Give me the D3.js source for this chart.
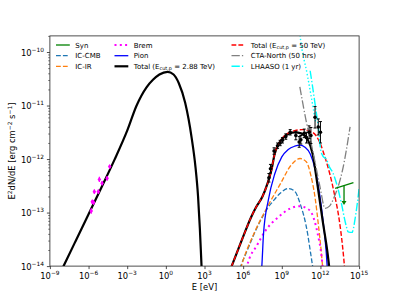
<!DOCTYPE html>
<html><head><meta charset="utf-8">
<script src="https://cdn.jsdelivr.net/npm/d3@7"></script>
<style>body{margin:0;background:#fff}svg{display:block}text{font-family:"DejaVu Sans",sans-serif;fill:#000}</style>
</head><body><svg id="c" width="399" height="299"></svg>
<script>
// ---- data: [log10 E (eV), log10 E^2dN/dE (erg cm^-2 s^-1)] ----
const totalLow = [[-8.3,-14.18],[-7.94,-14.0],[-7,-13.53],[-6,-13.03],[-5,-12.53],[-4,-12.02],[-3,-11.47],[-2.27,-11.0],[-1.5,-10.66],[-1.0,-10.52],[-0.5,-10.42],[0.13,-10.37],[0.6,-10.42],[1.0,-10.58],[1.5,-10.95],[2.0,-11.6],[2.3,-12.15],[2.5,-12.7],[2.64,-13.3],[2.77,-14.0],[2.85,-14.4]];
const totalHigh = [[4.9,-14.13],[5.11,-14.0],[6.0,-13.45],[6.59,-13.1],[7.0,-12.9],[7.5,-12.7],[7.9,-12.45],[8.2,-12.2],[8.45,-11.9],[8.8,-11.7],[9.2,-11.58],[9.6,-11.52],[10.0,-11.5],[10.5,-11.52],[11.0,-11.63],[11.39,-11.9],[11.78,-12.5],[12.17,-13.15],[12.56,-13.77],[12.72,-14.1]];
const total50 = [[4.9,-14.13],[5.11,-14.0],[6.0,-13.45],[6.59,-13.1],[7.0,-12.9],[7.5,-12.7],[7.9,-12.45],[8.2,-12.2],[8.45,-11.9],[8.8,-11.7],[9.2,-11.57],[9.6,-11.5],[10.0,-11.47],[10.6,-11.45],[11.2,-11.48],[11.65,-11.56],[12.0,-11.72],[12.42,-12.02],[12.75,-12.3],[13.07,-12.64],[13.46,-13.14],[13.72,-13.64],[13.9,-14.1]];
const icCMB = [[5.75,-14.05],[5.82,-14.0],[6.33,-13.7],[7.0,-13.32],[7.37,-13.14],[7.89,-12.92],[8.28,-12.8],[8.92,-12.63],[9.5,-12.55],[10.0,-12.6],[10.42,-12.83],[11.0,-13.39],[11.2,-13.7],[11.39,-14.0],[11.45,-14.1]];
const icIR = [[5.8,-14.05],[5.86,-14.0],[6.84,-13.39],[7.89,-12.89],[8.92,-12.45],[9.7,-12.12],[10.42,-11.99],[10.9,-12.05],[11.25,-12.3],[11.6,-12.75],[11.85,-13.25],[12.05,-13.7],[12.18,-14.05]];
const brem = [[6.25,-14.05],[6.3,-14.0],[7.1,-13.6],[7.7,-13.35],[8.9,-13.05],[9.6,-12.93],[10.35,-12.88],[11.0,-12.93],[11.3,-13.0],[11.78,-13.39],[12.09,-13.83],[12.2,-14.1]];
const pion = [[7.42,-14.1],[7.45,-14.0],[7.58,-13.4],[7.95,-12.77],[8.45,-12.28],[9.0,-11.96],[9.5,-11.82],[10.0,-11.76],[10.4,-11.74],[10.8,-11.78],[11.2,-11.9],[11.6,-12.2],[11.9,-12.6],[12.2,-13.15],[12.45,-13.75],[12.55,-14.1]];
const ctaNorth = [[10.4,-10.65],[10.9,-11.3],[11.39,-11.83],[11.95,-12.5],[12.36,-12.92],[12.7,-12.88],[13.07,-12.71],[13.72,-12.2],[14.3,-11.4]];
const lhaaso = [[11.2,-10.35],[11.6,-11.0],[11.9,-11.55],[12.0,-11.8],[12.2,-11.95],[12.45,-12.0],[12.7,-12.15],[12.95,-12.25],[13.3,-12.5],[13.6,-12.8],[14.0,-13.25],[14.15,-13.36],[14.45,-13.37],[14.7,-13.1],[15.0,-12.55]];
const lhaasoSteep = [[10.35,-9.55],[10.42,-9.7],[11.0,-10.45],[11.62,-11.3]];
const synUL = [[13.14,-12.55],[14.56,-12.44]];
const synULArrow = [13.83,-12.5,-12.86];
// radio points: [logE, logF, err]
const radioPts = [[-5.79,-12.97,0.05],[-5.71,-12.80,0.04],[-5.61,-12.81,0.04],[-5.55,-12.61,0.04],[-5.24,-12.61,0.04],[-5.16,-12.38,0.05],[-4.95,-12.45,0.04],[-4.56,-12.36,0.04],[-4.36,-12.14,0.03]];
// gamma-ray points: [logE, logF, err]
const gammaPts = [[8.0,-12.35,0.08],[8.12,-12.18,0.08],[8.4,-11.85,0.06],[8.67,-11.75,0.05],[8.87,-11.7,0.05],[9.05,-11.65,0.05],[9.31,-11.58,0.05],[9.65,-11.5,0.05],[10.09,-11.56,0.08],[10.35,-11.68,0.1],[10.48,-11.64,0.08],[10.74,-11.52,0.08],[10.92,-11.6,0.1],[11.12,-11.5,0.12],[11.26,-11.56,0.15],[11.58,-11.22,0.2],[11.83,-11.4,0.15],[12.0,-11.5,0.2]];
const xTicks = [-9,-6,-3,0,3,6,9,12,15];
const yTicks = [-14,-13,-12,-11,-10];

// ---- chart ----
const svg = d3.select("#c");
const m = {l:49.9, r:359.1, t:35.9, b:266.1};
const x = d3.scaleLog().domain([1e-9,1e15]).range([m.l,m.r]);
const y = d3.scaleLog().domain([1e-14,2e-10]).range([m.b,m.t]);
const X = v => x(Math.pow(10,v)), Y = v => y(Math.pow(10,v));

svg.append("defs").append("clipPath").attr("id","clip").append("rect")
  .attr("x",m.l).attr("y",m.t).attr("width",m.r-m.l).attr("height",m.b-m.t);
const plot = svg.append("g").attr("clip-path","url(#clip)");
const line = d3.line().x(d=>X(d[0])).y(d=>Y(d[1])).curve(d3.curveMonotoneX);

const styles = {
  syn:{c:"green",w:1.3,d:null},
  cmb:{c:"#1f77b4",w:1.3,d:"4.8,2.1"},
  ir:{c:"#ff7f0e",w:1.3,d:"4.8,2.1"},
  brem:{c:"magenta",w:2,d:"2,3.3"},
  pion:{c:"blue",w:1.3,d:null},
  tot:{c:"black",w:2.2,d:null},
  tot50:{c:"red",w:1.4,d:"4.8,2.1"},
  cta:{c:"#808080",w:1.3,d:"8.3,2.1,1.3,2.1"},
  lha:{c:"cyan",w:1.4,d:"8.3,2.1,1.3,2.1"},
  lhaDot:{c:"cyan",w:1.4,d:"1.4,2.2"}
};
function draw(data,s){
  plot.append("path").datum(data).attr("d",line).attr("fill","none")
    .attr("stroke",s.c).attr("stroke-width",s.w).attr("stroke-dasharray",s.d);
}
draw(icCMB,styles.cmb);
draw(icIR,styles.ir);
draw(brem,styles.brem);
draw(pion,styles.pion);
draw(totalLow,styles.tot);
draw(totalHigh,styles.tot);
draw(total50,styles.tot50);
draw(ctaNorth,styles.cta);
draw(lhaasoSteep,styles.lhaDot);
draw(lhaaso,styles.lha);

// syn upper limit
plot.append("line").attr("x1",X(synUL[0][0])).attr("y1",Y(synUL[0][1])).attr("x2",X(synUL[1][0])).attr("y2",Y(synUL[1][1]))
  .attr("stroke","green").attr("stroke-width",1.3);
{
  const ax = X(synULArrow[0]), y1 = Y(synULArrow[1]), y2 = Y(synULArrow[2]);
  plot.append("line").attr("x1",ax).attr("x2",ax).attr("y1",y1).attr("y2",y2-3).attr("stroke","green").attr("stroke-width",1.3);
  plot.append("path").attr("d",`M${ax-2.5},${y2-4}L${ax+2.5},${y2-4}L${ax},${y2}Z`).attr("fill","green");
}

// radio points
radioPts.forEach(p=>{
  const cx=X(p[0]), cy=Y(p[1]);
  plot.append("line").attr("x1",cx).attr("x2",cx).attr("y1",Y(p[1]-p[2])).attr("y2",Y(p[1]+p[2])).attr("stroke","magenta").attr("stroke-width",1.2);
  plot.append("path").attr("d",`M${cx},${cy-2.6}L${cx+1.8},${cy}L${cx},${cy+2.6}L${cx-1.8},${cy}Z`).attr("fill","magenta");
});
// gamma points
gammaPts.forEach(p=>{
  const cx=X(p[0]), cy=Y(p[1]), ya=Y(p[1]-p[2]), yb=Y(p[1]+p[2]);
  plot.append("line").attr("x1",cx).attr("x2",cx).attr("y1",ya).attr("y2",yb).attr("stroke","black").attr("stroke-width",1);
  plot.append("line").attr("x1",cx-1.5).attr("x2",cx+1.5).attr("y1",ya).attr("y2",ya).attr("stroke","black").attr("stroke-width",1);
  plot.append("line").attr("x1",cx-1.5).attr("x2",cx+1.5).attr("y1",yb).attr("y2",yb).attr("stroke","black").attr("stroke-width",1);
  plot.append("circle").attr("cx",cx).attr("cy",cy).attr("r",1.8).attr("fill","black");
});

// axes frame
svg.append("rect").attr("x",m.l).attr("y",m.t).attr("width",m.r-m.l).attr("height",m.b-m.t)
  .attr("fill","none").attr("stroke","#222").attr("stroke-width",0.8);

const fs = 8.4;
function pow10Label(t, e){
  t.append("tspan").text("10");
  t.append("tspan").attr("dy",-3.6).attr("font-size",fs*0.7).text(e<0?"\u2212"+(-e):String(e));
}
// x axis
const xa = svg.append("g").attr("transform",`translate(0,${m.b})`)
  .call(d3.axisBottom(x).tickValues(xTicks.map(e=>Math.pow(10,e))).tickSize(3).tickFormat(""));
xa.select(".domain").remove();
xa.selectAll(".tick line").attr("stroke","#222").attr("stroke-width",0.8);
xTicks.forEach(e=>{
  const t = svg.append("text").attr("x",X(e)).attr("y",279).attr("text-anchor","middle").attr("font-size",fs);
  pow10Label(t,e);
});
// y axis
const yMinor = [];
for(let e=-14;e<=-10;e++) for(let k=2;k<=9;k++){ const v=k*Math.pow(10,e); if(v<=2.0001e-10) yMinor.push(v); }
const ya = svg.append("g").attr("transform",`translate(${m.l},0)`)
  .call(d3.axisLeft(y).tickValues(yTicks.map(e=>Math.pow(10,e))).tickSize(3).tickFormat(""));
ya.select(".domain").remove();
ya.selectAll(".tick line").attr("stroke","#222").attr("stroke-width",0.8);
const yb = svg.append("g").attr("transform",`translate(${m.l},0)`)
  .call(d3.axisLeft(y).tickValues(yMinor).tickSize(1.7).tickFormat(""));
yb.select(".domain").remove();
yb.selectAll(".tick line").attr("stroke","#222").attr("stroke-width",0.6);
yTicks.forEach(e=>{
  const t = svg.append("text").attr("x",44).attr("y",Y(e)+3.5).attr("text-anchor","end").attr("font-size",fs);
  pow10Label(t,e);
});

// axis labels
svg.append("text").attr("x",(m.l+m.r)/2).attr("y",290).attr("text-anchor","middle").attr("font-size",fs).text("E [eV]");
{
  const t = svg.append("text").attr("transform",`translate(15,${(m.t+m.b)/2}) rotate(-90)`).attr("text-anchor","middle").attr("font-size",fs);
  t.append("tspan").text("E");
  t.append("tspan").attr("dy",-3.4).attr("font-size",fs*0.7).text("2");
  t.append("tspan").attr("dy",3.4).text("dN/dE [erg cm");
  t.append("tspan").attr("dy",-3.4).attr("font-size",fs*0.7).text("\u22122");
  t.append("tspan").attr("dy",3.4).text(" s");
  t.append("tspan").attr("dy",-3.4).attr("font-size",fs*0.7).text("\u22121");
  t.append("tspan").attr("dy",3.4).text("]");
}

// legends
const lfs = 7;
const legendItems = [
  {s:styles.syn, lab:["Syn"], x:56, y:45},
  {s:styles.cmb, lab:["IC-CMB"], x:56, y:55.7},
  {s:styles.ir, lab:["IC-IR"], x:56, y:66.3},
  {s:styles.brem, lab:["Brem"], x:114.5, y:45},
  {s:styles.pion, lab:["Pion"], x:114.5, y:55.7},
  {s:styles.tot, lab:["Total (E","cut,p"," = 2.88 TeV)"], x:114.5, y:66.3},
  {s:styles.tot50, lab:["Total (E","cut,p"," = 50 TeV)"], x:231.5, y:45},
  {s:styles.cta, lab:["CTA-North (50 hrs)"], x:231.5, y:55.7},
  {s:styles.lha, lab:["LHAASO (1 yr)"], x:231.5, y:66.3}
];
legendItems.forEach(it=>{
  svg.append("line").attr("x1",it.x).attr("x2",it.x+13.8).attr("y1",it.y).attr("y2",it.y)
    .attr("stroke",it.s.c).attr("stroke-width",it.s.w).attr("stroke-dasharray",it.s.d);
  const t = svg.append("text").attr("x",it.x+19.3).attr("y",it.y+2.5).attr("font-size",lfs);
  t.append("tspan").text(it.lab[0]);
  if(it.lab.length>1){
    t.append("tspan").attr("dy",1.6).attr("font-size",lfs*0.7).text(it.lab[1]);
    t.append("tspan").attr("dy",-1.6).text(it.lab[2]);
  }
});
</script></body></html>
